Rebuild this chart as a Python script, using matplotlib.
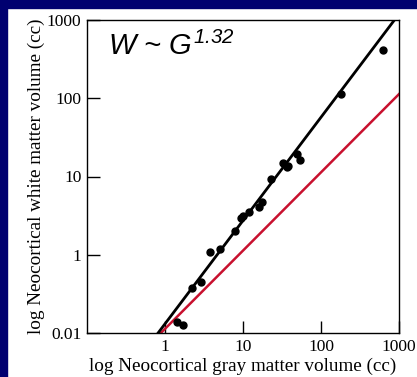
import numpy as np
import matplotlib
matplotlib.use("Agg")
import matplotlib.pyplot as plt
from matplotlib.patches import Rectangle

# data
gray = [1.43, 1.70, 2.22, 2.90, 3.78, 5.07, 7.89, 9.42, 10.0, 11.9, 16.0, 17.5,
        22.9, 32.6, 36.6, 37.8, 49.2, 53.8, 180, 624]
white = [0.138, 0.126, 0.376, 0.449, 1.08, 1.18, 2.01, 2.95, 3.13, 3.52, 4.07, 4.72,
         9.29, 14.9, 13.2, 13.6, 19.4, 16.3, 113, 414]
fit_coef, fit_exp = 0.131, 1.32
ref_coef, ref_exp = 0.113, 1.0
xticks = [1, 10, 100, 1000]
xticklabels = ["1", "10", "100", "1000"]
yticks = [0.1, 1, 10, 100, 1000]
yticklabels = ["0.01", "1", "10", "100", "1000"]
xlim = (0.1, 1000)
ylim = (0.1, 1000)

plt.rcParams['mathtext.fontset'] = 'custom'
plt.rcParams['mathtext.it'] = 'Liberation Sans:italic'
plt.rcParams['mathtext.rm'] = 'Liberation Sans:italic'

W, H = 417, 377
fig = plt.figure(figsize=(W / 100, H / 100), dpi=100)
fig.patch.set_facecolor('white')
navy = '#000070'
fig.patches.append(Rectangle((0, 1 - 8 / H), 1, 8 / H, transform=fig.transFigure,
                             color=navy, zorder=0))
fig.patches.append(Rectangle((0, 0), 7 / W, 1, transform=fig.transFigure,
                             color=navy, zorder=0))

ax = fig.add_axes([87 / W, 44 / H, 312 / W, 313 / H])
ax.set_xscale('log')
ax.set_yscale('log')
ax.set_xlim(*xlim)
ax.set_ylim(*ylim)

xs = np.logspace(np.log10(xlim[0]), np.log10(xlim[1]), 200)
ax.plot(xs, ref_coef * xs ** ref_exp, color='#c8102e', lw=1.8, zorder=2)
ax.plot(xs, fit_coef * xs ** fit_exp, color='black', lw=2, zorder=3)
ax.plot(gray, white, 'o', color='black', ms=5, zorder=4)

serif = 'Liberation Serif'
ax.set_xticks(xticks)
ax.set_xticklabels(xticklabels, family=serif, fontsize=12.5)
ax.set_yticks(yticks)
ax.set_yticklabels(yticklabels, family=serif, fontsize=12.5)
ax.minorticks_off()
ax.tick_params(axis='both', direction='in', length=9, width=1, colors='black', pad=4)
for s in ax.spines.values():
    s.set_linewidth(1)

ax.set_xlabel('log Neocortical gray matter volume (cc)', family=serif, fontsize=13.8, labelpad=2)
ax.set_ylabel('log Neocortical white matter volume (cc)', family=serif, fontsize=13.8, labelpad=1)

ax.text(0.067, 0.888, 'W ~ $G^{1.32}$', transform=ax.transAxes, family='Liberation Sans',
        style='italic', fontsize=21, va='baseline', ha='left')

fig.savefig('out.png', dpi=100, facecolor=fig.get_facecolor())
